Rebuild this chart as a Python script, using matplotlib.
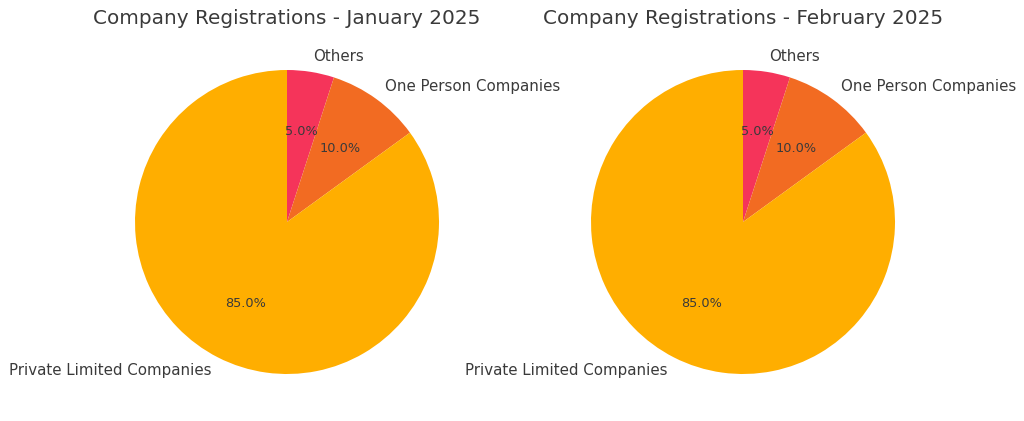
import matplotlib
matplotlib.use("Agg")
import matplotlib.pyplot as plt

# ── Data ──────────────────────────────────────────────────────────────────────
CATEGORIES = ["Others", "One Person Companies", "Private Limited Companies"]
JAN_SHARE = [5.0, 10.0, 85.0]
FEB_SHARE = [5.0, 10.0, 85.0]
TITLES = ["Company Registrations - January 2025", "Company Registrations - February 2025"]

COLORS = ["#F5345A", "#F26B22", "#FFAE00"]
TEXT = "#3a3a3a"

W, H = 1024, 421
R = 152  # pie radius in px
CENTERS = [(287, 222), (743, 222)]

fig = plt.figure(figsize=(W / 100, H / 100), dpi=100)
fig.patch.set_facecolor("white")

for (cx, cy), share, title in zip(CENTERS, [JAN_SHARE, FEB_SHARE], TITLES):
    ax = fig.add_axes([(cx - R) / W, (H - cy - R) / H, 2 * R / W, 2 * R / H])
    wedges, texts, autotexts = ax.pie(
        share, labels=CATEGORIES, colors=COLORS, startangle=90,
        counterclock=False, autopct="%1.1f%%",
        textprops={"color": TEXT, "fontsize": 10.8},
    )
    for t in autotexts:
        t.set_fontsize(9.3)
    ax.set_xlim(-1, 1)
    ax.set_ylim(-1, 1)
    ax.set_aspect("equal")
    ax.axis("off")
    fig.text(cx / W, 1 - 18 / H, title, ha="center", va="center",
             fontsize=14.4, color=TEXT)

plt.savefig("out.png", dpi=100, facecolor="white")
